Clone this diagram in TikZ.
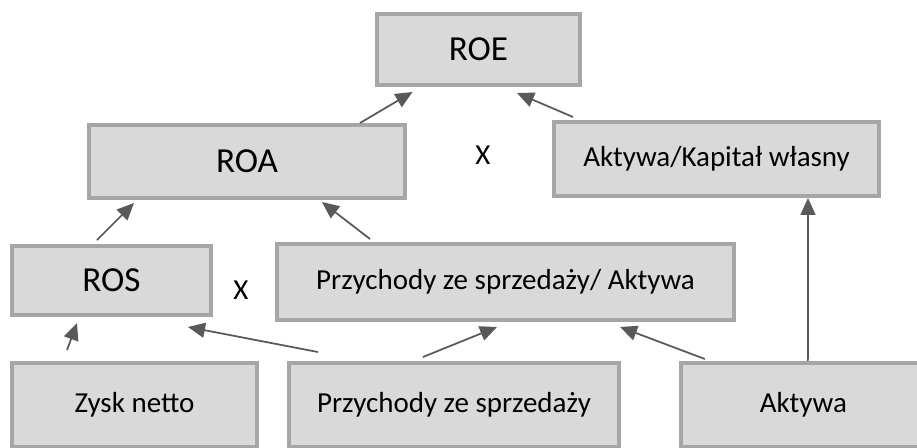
\documentclass[tikz,border=0pt]{standalone}
\usepackage{fontspec}
\setmainfont{Carlito}
\usetikzlibrary{arrows.meta,positioning,calc}
\definecolor{boxfill}{HTML}{D9D9D9}
\definecolor{boxline}{HTML}{A6A6A6}
\definecolor{linkgray}{HTML}{595959}

\begin{document}
\begin{tikzpicture}[x=0.02cm,y=-0.02cm,>={Triangle[length=0.34cm,width=0.3cm]},
  main node/.style={rectangle,fill=boxfill,draw=boxline,line width=0.08cm,
    inner sep=0pt,font=\fontsize{16.5}{19}\selectfont},
  big node/.style={main node,font=\fontsize{20}{24}\selectfont},
  times/.style={inner sep=0pt,font=\fontsize{16.5}{19}\selectfont}]

  \useasboundingbox (0,0) rectangle (917,447);
  \clip (0,0) rectangle (917,447);

  \node[big node,minimum width=4.06cm,minimum height=1.42cm] (ROE) at (478.5,49.5) {ROE};
  \node[big node,minimum width=6.32cm,minimum height=1.46cm] (ROA) at (247,161.5) {ROA};
  \node[main node,minimum width=6.5cm,minimum height=1.48cm] (AK) at (716.5,159) {Aktywa/Kapitał własny};
  \node[big node,minimum width=3.98cm,minimum height=1.38cm] (ROS) at (111.5,280.5) {ROS};
  \node[main node,minimum width=9.14cm,minimum height=1.52cm] (PSA) at (505.5,282) {Przychody ze sprzedaży/ Aktywa};
  \node[main node,minimum width=4.9cm,minimum height=1.68cm] (ZN) at (134.5,405) {Zysk netto};
  \node[main node,minimum width=6.6cm,minimum height=1.68cm] (PS) [node distance=6.39cm, right of=ZN] {Przychody ze sprzedaży};
  \node[main node,minimum width=4.9cm,minimum height=1.68cm] (AKT) [node distance=6.99cm, right of=PS] {Aktywa};
  \node[times] (X1) at (483,155) {X};
  \node[times] (X2) at (241,290) {X};

  \path[->,color=linkgray,line width=0.035cm]
    ($(ROA.north)+(113,0)$) edge ($(ROE.south)+(-66,5)$)
    ($(AK.north)+(-143.5,-3)$) edge ($(ROE.south)+(38.5,6)$)
    ($(ROS.north)+(-14.5,-4)$) edge ($(ROA.south)+(-113,3)$)
    ($(PSA.north)+(-135.5,-3)$) edge ($(ROA.south)+(75,2)$)
    ($(AKT.north)+(4.5,0)$) edge ($(AK.south)+(91.5,0)$)
    ($(ZN.north)+(-67.5,-11)$) edge ($(ROS.south)+(-34.5,6)$)
    ($(PS.north)+(-136,-9)$) edge ($(ROS.south)+(76.5,10)$)
    ($(PS.north)+(-31,-4)$) edge ($(PSA.south)+(-8.5,5)$)
    ($(AKT.north)+(-98.5,-2)$) edge ($(PSA.south)+(114.5,5)$)
    ;
\end{tikzpicture}
\end{document}
